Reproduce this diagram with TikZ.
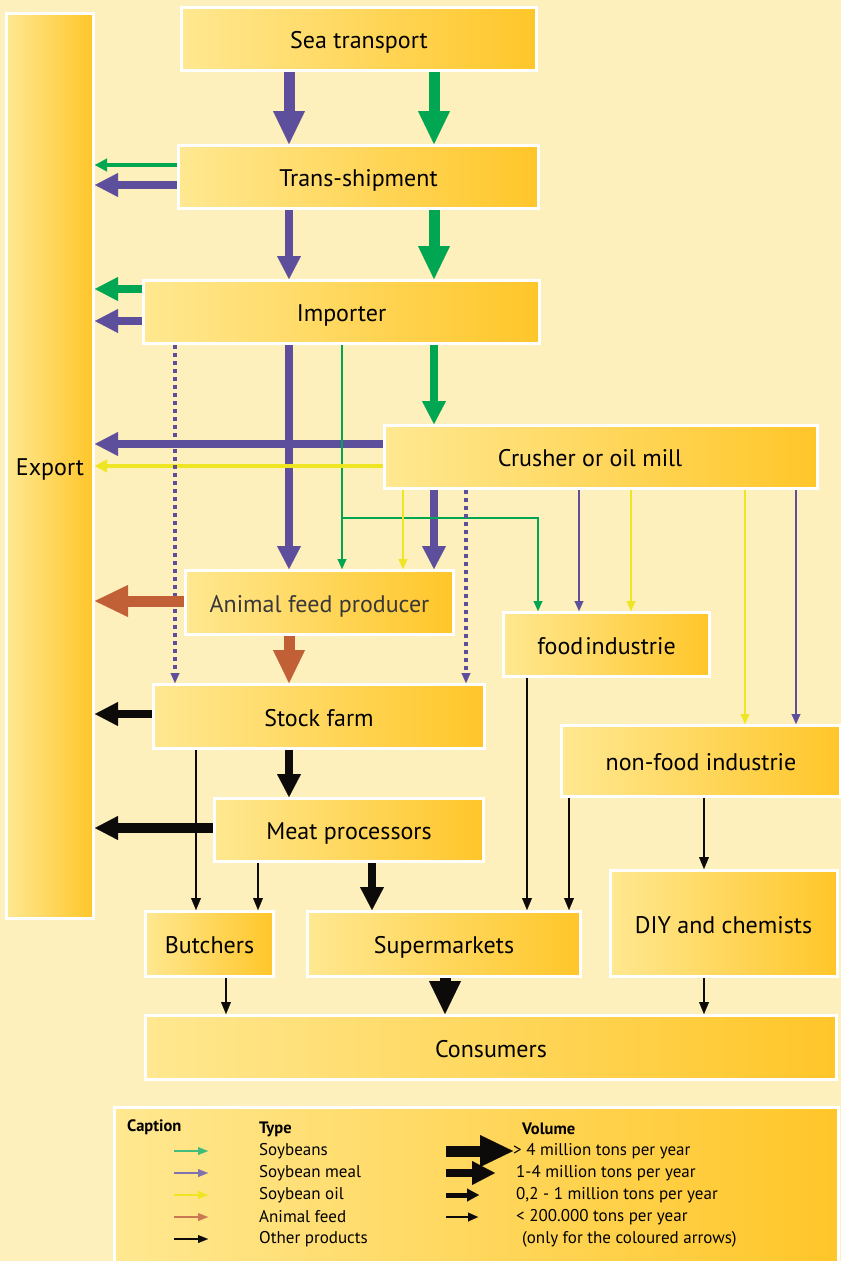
\documentclass[tikz,border=0pt]{standalone}
\usepackage{fontspec}
\setmainfont{PT Sans}
\usetikzlibrary{arrows.meta,calc}
\definecolor{bgc}{HTML}{FEF0BD}
\definecolor{boxl}{HTML}{FFE891}
\definecolor{boxr}{HTML}{FFC629}
\definecolor{pur}{HTML}{5E4F9C}
\definecolor{grn}{HTML}{00A651}
\definecolor{yel}{HTML}{EEE622}
\definecolor{brn}{HTML}{C15F36}
\definecolor{blk}{HTML}{0D0A0A}
\begin{document}
\begin{tikzpicture}[x=1pt,y=-1pt,
  box/.style={draw=white,line width=3pt,left color=boxl,right color=boxr,inner sep=0pt,
    font=\fontsize{24}{28}\selectfont,text=black,text height=19pt,text depth=0pt},
  aL/.style={line width=11pt,-{Triangle[width=32pt,length=33pt,line width=0.1pt]}},
  aM/.style={line width=8.5pt,-{Triangle[width=24pt,length=23pt,line width=0.1pt]}},
  aS/.style={line width=4pt,-{Triangle[width=13pt,length=12pt,line width=0.1pt]}},
  aT/.style={line width=1.4pt,-{Triangle[width=9pt,length=10pt,line width=0.1pt]}},
  aK/.style={line width=2.6pt,-{Triangle[width=10pt,length=12pt,line width=0.1pt]}},
  aD/.style={line width=3.5pt,dash pattern=on 4pt off 4pt,-{Triangle[width=9pt,length=10pt,line width=0.1pt]}},
  leg/.style={font=\fontsize{17}{19}\selectfont,anchor=west,inner sep=0pt,text=black},
  legb/.style={leg,font=\fontsize{16.5}{19}\selectfont\bfseries},
  larr/.style={line width=1.6pt,-{Triangle[width=8pt,length=10pt,line width=0.1pt]}}
]
\useasboundingbox (0,0) rectangle (841,1261);
\fill[bgc] (0,0) rectangle (841,1261);

% boxes
\node[box,minimum width=87pt,minimum height=905pt] (export) at (50,466) {Export};
\node[box,minimum width=355pt,minimum height=63pt] (sea) at (359,39) {Sea transport};
\node[box,minimum width=360pt,minimum height=63pt] (trans) at (358.5,177) {Trans-shipment};
\node[box,minimum width=396pt,minimum height=63pt] (imp) at (341.5,312) {Importer};
\node[box,minimum width=433pt,minimum height=63pt] (crush) at (601,457) {Crusher or oil mill\hspace*{22pt}};
\node[box,minimum width=268pt,minimum height=64pt,text=black!78] (feed) at (319.5,602.5) {Animal feed producer};
\node[box,minimum width=206pt,minimum height=64pt] (food) at (606.5,644.5) {food\kern2pt industrie};
\node[box,minimum width=331pt,minimum height=64pt] (stock) at (319,716.5) {Stock farm};
\node[box,minimum width=279pt,minimum height=71pt] (nonfood) at (701,761) {non-food industrie};
\node[box,minimum width=269pt,minimum height=63pt] (meat) at (349,830) {Meat processors};
\node[box,minimum width=128pt,minimum height=65pt] (butch) at (209.5,944) {Butchers};
\node[box,minimum width=273pt,minimum height=65pt] (super) at (444,944) {Supermarkets};
\node[box,minimum width=227pt,minimum height=106pt] (diy) at (723.5,923.5) {DIY and chemists};
\node[box,minimum width=691pt,minimum height=64pt] (cons) at (491,1047.5) {Consumers};
\node[box,minimum width=724pt,minimum height=160pt] (capt) at (476,1187) {};

% purple / green main flows
\draw[aL,pur] (289,0 |- sea.south) -- (289,0 |- trans.north);
\draw[aL,grn] (434,0 |- sea.south) -- (434,0 |- trans.north);
\draw[aS,grn] (0,165 -| trans.west) -- (0,165 -| export.east);
\draw[aM,pur] (0,185 -| trans.west) -- (0,185 -| export.east);
\draw[aM,pur] (289,0 |- trans.south) -- (289,0 |- imp.north);
\draw[aL,grn] (434,0 |- trans.south) -- (434,0 |- imp.north);
\draw[aM,grn] (0,289 -| imp.west) -- (0,289 -| export.east);
\draw[aM,pur] (0,321 -| imp.west) -- (0,321 -| export.east);
\draw[aM,pur] (289,0 |- imp.south) -- (289,0 |- feed.north);
\draw[aM,grn] (434,0 |- imp.south) -- (434,0 |- crush.north);
\draw[aM,pur] (0,444 -| crush.west) -- (0,444 -| export.east);
\draw[aM,pur] (434,0 |- crush.south) -- (434,0 |- feed.north);
\draw[aT,pur] (579,0 |- crush.south) -- (579,0 |- food.north);
\draw[aT,pur] (796,0 |- crush.south) -- (796,0 |- nonfood.north);
% green thin
\coordinate (gsplit) at (342,518);
\draw[aT,grn] (342,0 |- imp.south) -- (342,0 |- feed.north);
\draw[aT,grn] (gsplit) -| (538,0 |- food.north);
% yellow
\draw[aS,yel] (0,466 -| crush.west) -- (0,466 -| export.east);
\draw[aT,yel] (403,0 |- crush.south) -- (403,0 |- feed.north);
\draw[aT,yel] (631,0 |- crush.south) -- (631,0 |- food.north);
\draw[aT,yel] (745,0 |- crush.south) -- (745,0 |- nonfood.north);
% dotted
\draw[aD,pur] (175,0 |- imp.south) -- (175,0 |- stock.north);
\draw[aD,pur] (466,0 |- crush.south) -- (466,0 |- stock.north);
% brown
\draw[aL,brn] (0,601 -| feed.west) -- (0,601 -| export.east);
\draw[aL,brn] (289,0 |- feed.south) -- (289,0 |- stock.north);
% black
\draw[aM,blk] (0,714 -| stock.west) -- (0,714 -| export.east);
\draw[aM,blk] (289,0 |- stock.south) -- (289,0 |- meat.north);
\draw[aK,blk] (196,0 |- stock.south) -- (196,0 |- butch.north);
\draw[aM,blk,line width=10pt] (0,828 -| meat.west) -- (0,828 -| export.east);
\draw[aK,blk] (258,0 |- meat.south) -- (258,0 |- butch.north);
\draw[aM,blk] (372,0 |- meat.south) -- (372,0 |- super.north);
\draw[aK,blk] (527,0 |- food.south) -- (527,0 |- super.north);
\draw[aK,blk] (569,0 |- nonfood.south) -- (569,0 |- super.north);
\draw[aK,blk] (704,0 |- nonfood.south) -- (704,0 |- diy.north);
\draw[aK,blk] (226,0 |- butch.south) -- (226,0 |- cons.north);
\draw[aL,blk] (445,0 |- super.south) -- (445,0 |- cons.north);
\draw[aK,blk] (704,0 |- diy.south) -- (704,0 |- cons.north);

% caption
\node[legb] (lcap) at (127,1127) {Caption};
\node[legb] (ltype) at (259,1129) {Type};
\node[legb] (lvol) at (522,1129) {Volume};
\node[leg] (t1) at (259,1151) {Soybeans};
\node[leg] (t2) at (259,1173) {Soybean meal};
\node[leg] (t3) at (259,1195) {Soybean oil};
\node[leg] (t4) at (259,1217) {Animal feed};
\node[leg] (t5) at (259,1239) {Other products};
\foreach \i/\y/\c in {1/1151/grn!75!white,2/1173/pur!80!white,3/1195/yel,4/1217/brn!85!white,5/1239/blk}{
  \coordinate (ca\i) at (174,\y);
  \coordinate (cb\i) at (208,\y);
  \draw[larr,\c] (ca\i) -- (cb\i);
}
\node[leg] (v1) at (513,1151) {> 4 million tons per year};
\node[leg] (v2) at (516,1173) {1-4 million tons per year};
\node[leg] (v3) at (516,1195) {0,2 - 1 million tons per year};
\node[leg] (v4) at (516,1217) {< 200.000 tons per year};
\node[leg] (v5) at (522,1239) {(only for the coloured arrows)};
\coordinate (va1) at (446,1151);
\coordinate (va2) at (446,1173);
\coordinate (va3) at (446,1195);
\coordinate (va4) at (446,1217);
\draw[aL,blk] (va1) -- (v1.west);
\draw[aM,blk] (va2) -- ([xshift=-21pt]v2.west);
\draw[aS,blk,line width=5pt] (va3) -- ([xshift=-37pt]v3.west);
\draw[aT,blk,line width=2pt] (va4) -- ([xshift=-38pt]v4.west);
\end{tikzpicture}
\end{document}
